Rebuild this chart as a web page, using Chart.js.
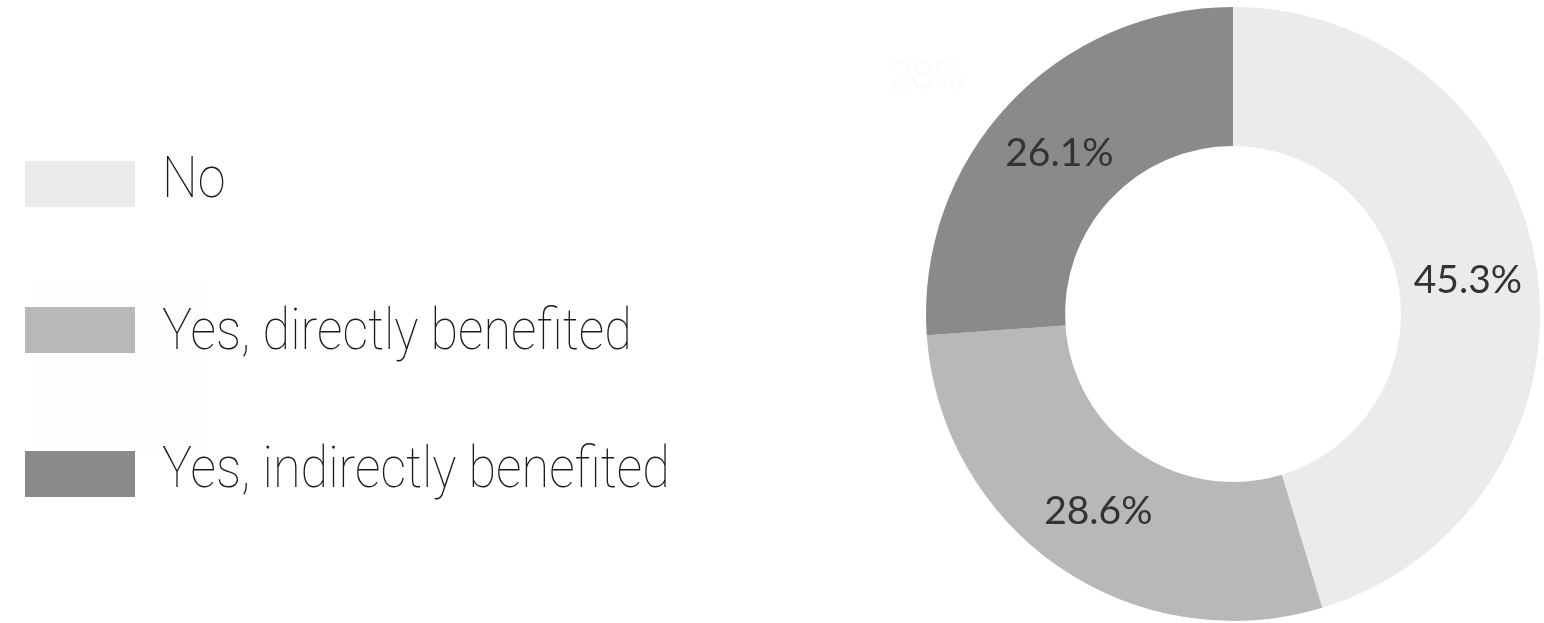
<!DOCTYPE html>
<html>
<head>
<meta charset="utf-8">
<script src="https://cdn.jsdelivr.net/npm/chart.js@4.4.1/dist/chart.umd.min.js"></script>
<style>
  html, body { margin: 0; padding: 0; background: #fff; }
  #wrap { position: relative; width: 1544px; height: 623px; overflow: hidden; }
  #chart { position: absolute; left: 0; top: 0; }
  #ghost-panel { position: absolute; left: 33px; top: 280px; width: 172px; height: 175px; background: #fdfdfd; }
  #ghost-label { position: absolute; left: 889px; top: 55px; font: 300 39px Lato, sans-serif; line-height: 39px; color: #fafafa; }
  .leg-box { position: absolute; left: 25px; width: 110px; height: 46px; }
  .leg-text { position: absolute; left: 162px; font-family: Roboto, sans-serif; font-weight: 100; font-size: 57px; line-height: 57px; color: #1a1a1a; white-space: nowrap; transform-origin: 0 0; transform: scaleX(0.885); }
</style>
</head>
<body>
<div id="wrap">
  <div id="ghost-panel"></div>
  <div id="ghost-label">28%</div>
  <canvas id="chart" width="1544" height="623"></canvas>
  <div id="legend"></div>
</div>
<script>
// --- DATA ---
const labels = ['No', 'Yes, directly benefited', 'Yes, indirectly benefited'];
const shares = [45.3, 28.6, 26.1];
const colors = ['#ebebeb', '#b8b8b8', '#8a8a8a'];

// legend rows: box top and text baseline
const legendBoxTop = [161, 307, 451];
const legendBaseline = [197, 349, 487];

// --- LABELS INSIDE SLICES ---
const sliceLabels = {
    id: 'sliceLabels',
    afterDatasetsDraw(chart) {
        const ctx = chart.ctx;
        const meta = chart.getDatasetMeta(0);
        ctx.save();
        ctx.font = '400 39px Lato, sans-serif';
        ctx.fillStyle = '#333';
        ctx.textAlign = 'center';
        ctx.textBaseline = 'alphabetic';
        meta.data.forEach((arc, i) => {
            const p = arc.tooltipPosition();
            ctx.fillText(shares[i].toFixed(1) + '%', p.x, p.y + 14);
        });
        ctx.restore();
    }
};

function buildLegend() {
    document.getElementById('legend').innerHTML = labels.map((l, i) => `
        <div class="leg-box" style="top:${legendBoxTop[i]}px;background:${colors[i]}"></div>
        <div class="leg-text" style="top:${legendBaseline[i] - 48}px">${l}</div>`).join('');
}

window.onload = function() {
    buildLegend();
    new Chart(document.getElementById('chart').getContext('2d'), {
        type: 'doughnut',
        data: { labels: labels, datasets: [{ data: shares, backgroundColor: colors, borderWidth: 0 }] },
        options: {
            responsive: false, animation: false, cutout: '54.7%',
            layout: { padding: { left: 926, top: 7, right: 4, bottom: 2 } },
            plugins: { legend: { display: false }, tooltip: { enabled: false } }
        },
        plugins: [sliceLabels]
    });
};
</script>
</body>
</html>
